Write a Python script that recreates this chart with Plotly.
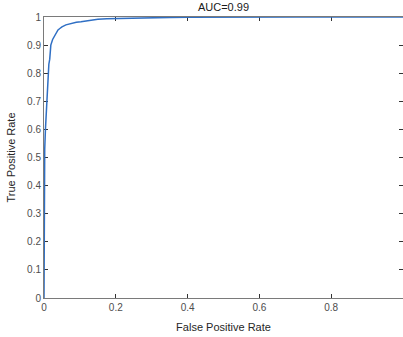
import plotly.graph_objects as go

fpr = [0, 0, 0, 0.002, 0.004, 0.006, 0.008, 0.0095, 0.011, 0.0135, 0.016, 0.019,
       0.024, 0.03, 0.035, 0.039, 0.045, 0.05, 0.061, 0.07, 0.08, 0.09, 0.103,
       0.125, 0.15, 0.175, 0.2, 0.25, 0.3, 0.35, 0.4, 0.45, 0.5, 0.7, 1.0]
tpr = [0, 0.3, 0.45, 0.53, 0.6, 0.66, 0.705, 0.76, 0.81, 0.832, 0.85, 0.9,
       0.92, 0.936, 0.946, 0.954, 0.96, 0.965, 0.972, 0.975, 0.978, 0.981, 0.983,
       0.988, 0.992, 0.994, 0.995, 0.997, 0.998, 0.9985, 0.999, 0.9995, 1.0, 1.0, 1.0]
x_ticks = [0, 0.2, 0.4, 0.6, 0.8, 1.0]
x_tick_labels = ["0", "0.2", "0.4", "0.6", "0.8", "1"]
y_ticks = [0, 0.1, 0.2, 0.3, 0.4, 0.5, 0.6, 0.7, 0.8, 0.9, 1.0]
y_tick_labels = ["0", "0.1", "0.2", "0.3", "0.4", "0.5", "0.6", "0.7", "0.8", "0.9", "1"]
title_text = "AUC=0.99"
x_title = "False Positive Rate"
y_title = "True Positive Rate"

FONT = "Liberation Sans, Arial, sans-serif"
W, H = 403, 337
L, R, T, B = 44, 0, 17, 39
plot_w = W - L - R

fig = go.Figure()
fig.add_trace(go.Scatter(x=fpr, y=tpr, mode="lines",
                         line=dict(color="#2f6fc4", width=1.5),
                         cliponaxis=False, showlegend=False))

axis_common = dict(showgrid=False, zeroline=False, showline=True, mirror="ticks",
                   linecolor="#7a7a7a", linewidth=1, ticks="inside", ticklen=4,
                   tickcolor="#333333", tickwidth=1, layer="below traces",
                   tickfont=dict(family=FONT, size=10, color="#4d4d4d"))

fig.update_xaxes(range=[0, 1], tickvals=x_ticks, ticktext=x_tick_labels,
                 title=dict(text=x_title, font=dict(family=FONT, size=11, color="#262626"),
                            standoff=11),
                 **axis_common)
fig.update_yaxes(range=[0, 1], tickvals=y_ticks, ticktext=y_tick_labels,
                 title=dict(text=y_title, font=dict(family=FONT, size=11, color="#262626"),
                            standoff=9),
                 **axis_common)

fig.update_layout(
    width=W, height=H,
    margin=dict(l=L, r=R, t=T, b=B),
    plot_bgcolor="white", paper_bgcolor="white",
    title=dict(text=title_text, x=0.5, xref="paper", xanchor="center",
               y=1, yref="container", yanchor="top", pad=dict(t=3),
               font=dict(family=FONT, size=11, color="#1a1a1a")),
)

fig.write_html("out.html", config={"displayModeBar": False},
               post_script="document.body.style.margin='0';document.body.style.overflow='hidden';")
